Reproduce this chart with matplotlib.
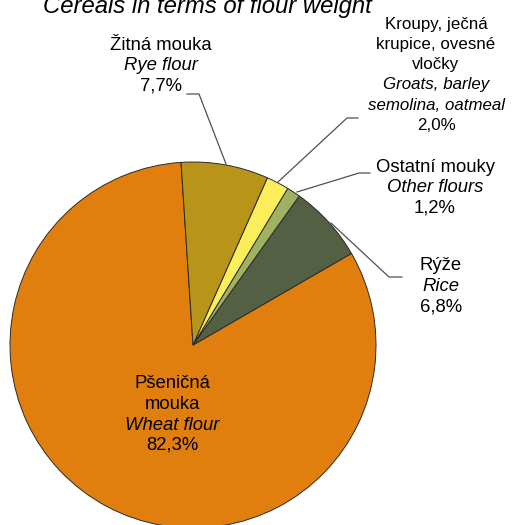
import matplotlib
matplotlib.use("Agg")
import matplotlib.pyplot as plt

# data (counterclockwise order starting from wheat)
cz_names = ["Pšeničná\nmouka", "Rýže", "Ostatní mouky", "Kroupy, ječná\nkrupice, ovesné\nvločky", "Žitná mouka"]
en_names = ["Wheat flour", "Rice", "Other flours", "Groats, barley\nsemolina, oatmeal", "Rye flour"]
shares = [82.3, 6.8, 1.2, 2.0, 7.7]
colors = ["#E07F0E", "#546044", "#A0B262", "#FAEE5A", "#B89418"]

W, H = 517, 525
plt.rcParams["font.family"] = ["Liberation Sans", "DejaVu Sans"]

fig = plt.figure(figsize=(W / 100, H / 100), dpi=100)
ax = fig.add_axes([0, 0, 1, 1])

ax.pie(shares, colors=colors, startangle=93.75, center=(193, H - 345), radius=183,
       wedgeprops=dict(edgecolor="#2a2a2a", linewidth=0.7))
ax.set_xlim(0, W)
ax.set_ylim(0, H)
ax.axis("off")

ax.text(207, H - 12.5, "Cereals in terms of flour weight", fontsize=17.2, style="italic",
        ha="center", va="baseline")

# label placement: (center x, first line y, line step, font size) in pixels
label_pos = [(172, 384, 20.5, 13.3), (441, 266, 20.5, 13.3), (435, 167, 20.5, 13.3),
             (436, 25, 20.0, 12.2), (161, 45, 20.5, 13.3)]

for cz, en, v, (lx, ly, step, fs) in zip(cz_names, en_names, shares, label_pos):
    lines = [(s, "normal") for s in cz.split("\n")]
    lines += [(s, "italic") for s in en.split("\n")]
    lines += [(f"{v:.1f}%".replace(".", ","), "normal")]
    for i, (s, st) in enumerate(lines):
        ax.text(lx, H - (ly + i * step), s, fontsize=fs, style=st, ha="center", va="center")

# leader lines
leaders = [
    [(187, 94), (199, 94), (226, 164)],
    [(358, 118), (347, 118), (278, 182)],
    [(370, 173), (359, 173), (297, 192)],
    [(402, 277), (389, 277), (331, 223)],
]
for pts in leaders:
    ax.plot([p[0] for p in pts], [H - p[1] for p in pts], color="#505050", lw=0.9)

fig.savefig("out.png", dpi=100)
